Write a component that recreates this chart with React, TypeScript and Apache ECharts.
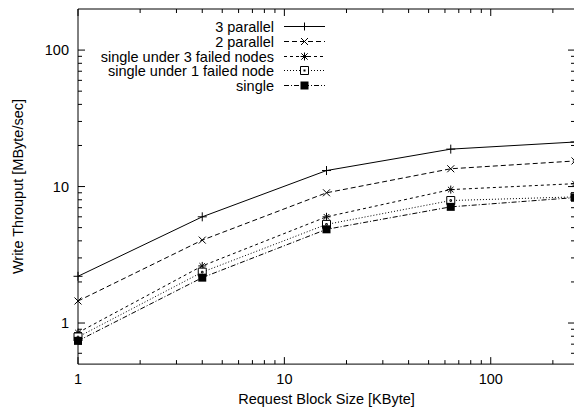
import React, { useEffect, useRef } from "react";
import * as echarts from "echarts";

const blockSizes = [1, 4, 16, 64, 256];
const seriesNames = [
  "3 parallel",
  "2 parallel",
  "single under 3 failed nodes",
  "single under 1 failed node",
  "single",
];
const threeParallel = [2.2, 6.0, 13.1, 18.8, 21.2];
const twoParallel = [1.45, 4.05, 9.0, 13.5, 15.4];
const single3Failed = [0.85, 2.62, 6.0, 9.5, 10.5];
const single1Failed = [0.79, 2.36, 5.28, 7.9, 8.4];
const singleNode = [0.74, 2.15, 4.86, 7.1, 8.3];

const xMajorTicks = [1, 10, 100];
const xMinorTicks = [2, 3, 4, 5, 6, 7, 8, 9, 20, 30, 40, 50, 60, 70, 80, 90, 200];
const yMajorTicks = [1, 10, 100];
const yMinorTicks = [0.6, 0.7, 0.8, 0.9, 2, 3, 4, 5, 6, 7, 8, 9, 20, 30, 40, 50, 60, 70, 80, 90];

const FONT = "Liberation Sans, Arial, Helvetica, sans-serif";
const FS = 14.5;

const PLUS = "path://M0,5H10M5,0V10";
const CROSS = "path://M0,0L10,10M10,0L0,10";
const STAR = "path://M0,5H10M5,0V10M1.5,1.5L8.5,8.5M8.5,1.5L1.5,8.5";
const OSQUARE = "path://M0,0H10V10H0Z M4,4H6V6H4Z";

const styles = [
  { dash: "solid" as any, symbol: PLUS, size: 9, fill: "#000", border: 1 },
  { dash: [5, 3], symbol: CROSS, size: 7, fill: "#000", border: 1 },
  { dash: [3, 3], symbol: STAR, size: 8, fill: "#000", border: 1 },
  { dash: [1, 2], symbol: OSQUARE, size: 8, fill: "#fff", border: 1 },
  { dash: [5, 2, 1, 2], symbol: "rect", size: 8, fill: "#000", border: 0 },
];

const isPow10 = (v: number) => Math.abs(Math.log10(v) - Math.round(Math.log10(v))) < 1e-6;

export default function App() {
  const ref = useRef<HTMLDivElement>(null);
  useEffect(() => {
    if (!ref.current) return;
    const chart = echarts.init(ref.current, null, { renderer: "svg" });
    const values = [threeParallel, twoParallel, single3Failed, single1Failed, singleNode];

    const lineSeries = values.map((vals, i) => ({
      name: seriesNames[i],
      type: "line",
      data: blockSizes.map((x, j) => [x, vals[j]]),
      symbol: styles[i].symbol,
      symbolSize: styles[i].size,
      showSymbol: true,
      lineStyle: { color: "#000", width: 1, type: styles[i].dash },
      itemStyle: {
        color: styles[i].fill,
        borderColor: "#000",
        borderWidth: styles[i].border,
      },
      z: 5,
    }));

    const tickXSeries = (ticks: number[], len: number) => ({
      type: "custom",
      silent: true,
      data: ticks.map((v) => [v, 1]),
      z: 3,
      renderItem: (params: any, api: any) => {
        const cs = params.coordSys;
        const px = api.coord([api.value(0), 1])[0];
        const bot = cs.y + cs.height;
        return {
          type: "group",
          children: [
            { type: "line", shape: { x1: px, y1: bot, x2: px, y2: bot - len }, style: { stroke: "#000", lineWidth: 1 } },
            { type: "line", shape: { x1: px, y1: cs.y, x2: px, y2: cs.y + len }, style: { stroke: "#000", lineWidth: 1 } },
          ],
        };
      },
    });
    const tickYSeries = (ticks: number[], len: number) => ({
      type: "custom",
      silent: true,
      data: ticks.map((v) => [1, v]),
      z: 3,
      renderItem: (params: any, api: any) => {
        const cs = params.coordSys;
        const py = api.coord([1, api.value(1)])[1];
        const right = cs.x + cs.width;
        return {
          type: "group",
          children: [
            { type: "line", shape: { x1: cs.x, y1: py, x2: cs.x + len, y2: py }, style: { stroke: "#000", lineWidth: 1 } },
            { type: "line", shape: { x1: right, y1: py, x2: right - len, y2: py }, style: { stroke: "#000", lineWidth: 1 } },
          ],
        };
      },
    });

    // legend drawn as graphic
    const legendX = 274;
    const lineX1 = 284;
    const lineX2 = 325;
    const midX = (lineX1 + lineX2) / 2;
    const rowY0 = 26.3;
    const rowDy = 14.6;
    const legendEls: any[] = [];
    seriesNames.forEach((name, i) => {
      const y = Math.round(rowY0 + i * rowDy) + 0.5;
      legendEls.push({
        type: "text",
        x: legendX,
        y,
        style: { text: name, fill: "#000", font: `${FS}px ${FONT}`, align: "right", verticalAlign: "middle" },
      });
      legendEls.push({
        type: "line",
        shape: { x1: lineX1, y1: y, x2: lineX2, y2: y },
        style: { stroke: "#000", lineWidth: 1, lineDash: Array.isArray(styles[i].dash) ? styles[i].dash : null },
      });
      const s = 4;
      const m = { stroke: "#000", lineWidth: 1 };
      if (i === 0 || i === 2) {
        legendEls.push({ type: "line", shape: { x1: midX - s, y1: y, x2: midX + s, y2: y }, style: m });
        legendEls.push({ type: "line", shape: { x1: midX, y1: y - s, x2: midX, y2: y + s }, style: m });
      }
      if (i === 1 || i === 2) {
        const d = i === 1 ? 3.5 : 3.2;
        legendEls.push({ type: "line", shape: { x1: midX - d, y1: y - d, x2: midX + d, y2: y + d }, style: m });
        legendEls.push({ type: "line", shape: { x1: midX + d, y1: y - d, x2: midX - d, y2: y + d }, style: m });
      }
      if (i === 3) {
        legendEls.push({ type: "rect", shape: { x: midX - 4, y: y - 4, width: 8, height: 8 }, style: { fill: "#fff", stroke: "#000", lineWidth: 1 } });
        legendEls.push({ type: "rect", shape: { x: midX - 1, y: y - 1, width: 2, height: 2 }, style: { fill: "#000" } });
      }
      if (i === 4) {
        legendEls.push({ type: "rect", shape: { x: midX - 4, y: y - 4, width: 8, height: 8 }, style: { fill: "#000" } });
      }
    });

    chart.setOption({
      animation: false,
      backgroundColor: "#fff",
      textStyle: { fontFamily: FONT },
      grid: {
        left: 78,
        top: 9,
        width: 497,
        height: 357,
        show: true,
        borderColor: "#000",
        borderWidth: 1,
        backgroundColor: "transparent",
      },
      xAxis: {
        type: "log",
        logBase: 10,
        min: 1,
        max: 256,
        name: "Request Block Size [KByte]",
        nameLocation: "middle",
        nameGap: 26,
        nameTextStyle: { fontSize: FS, color: "#000", fontFamily: FONT },
        axisLine: { show: false },
        axisTick: { show: false },
        splitLine: { show: false },
        minorTick: { show: false },
        axisLabel: {
          margin: 7,
          fontSize: FS,
          color: "#000",
          fontFamily: FONT,
          showMinLabel: true,
          showMaxLabel: true,
          formatter: (v: number) => (isPow10(v) ? String(Math.round(v)) : ""),
        },
      },
      yAxis: {
        type: "log",
        logBase: 10,
        min: 0.5,
        max: 200,
        name: "Write Throuput [MByte/sec]",
        nameLocation: "middle",
        nameGap: 53,
        nameTextStyle: { fontSize: FS, color: "#000", fontFamily: FONT },
        axisLine: { show: false },
        axisTick: { show: false },
        splitLine: { show: false },
        minorTick: { show: false },
        axisLabel: {
          margin: 9,
          fontSize: FS,
          color: "#000",
          fontFamily: FONT,
          formatter: (v: number) => (isPow10(v) ? String(Math.round(v)) : ""),
        },
      },
      graphic: legendEls,
      series: [
        tickXSeries(xMajorTicks, 7),
        tickXSeries(xMinorTicks, 4),
        tickYSeries(yMajorTicks, 7),
        tickYSeries(yMinorTicks, 4),
        ...lineSeries,
      ],
    });
    return () => chart.dispose();
  }, []);
  return (
    <div
      ref={ref}
      style={{ position: "fixed", left: 0, top: 0, width: 580, height: 411, background: "#fff" }}
    />
  );
}
